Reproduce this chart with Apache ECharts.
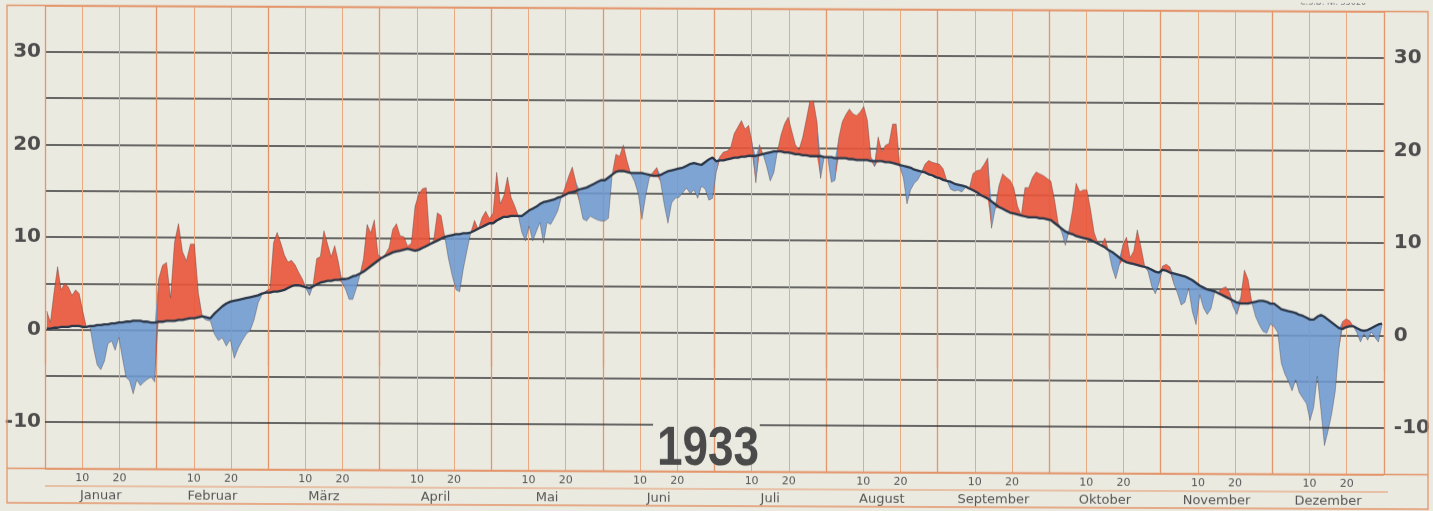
<!DOCTYPE html>
<html><head><meta charset="utf-8">
<script src="https://cdn.jsdelivr.net/npm/echarts@6/dist/echarts.min.js"></script>
<style>
html,body{margin:0;padding:0;background:#ebeae1;overflow:hidden;}
#c{width:1433px;height:511px;transform:skewY(0.26deg);transform-origin:716px 255px;}
</style></head><body><div id="c"></div>
<script>
// ---- data ----
const monthNames = ['Januar','Februar','März','April','Mai','Juni','Juli','August','September','Oktober','November','Dezember'];
const dayTickLabels = ['10','20'];
const yTickLabels = [30,20,10,0,-10];
const titleYear = '1933';

const actualJan = [2.0,0.8,4.0,6.8,4.3,5.0,4.6,3.7,4.3,3.9,2.0,0.3,0.3,-2.0,-3.8,-4.3,-3.4,-1.5,-1.2,-2.2,-0.8,-3.0,-5.1,-5.5,-6.9,-5.4,-6.0,-5.6,-5.3,-5.1,-5.6];
const actualFeb = [5.5,7.0,7.3,3.5,9.5,11.5,8.5,7.5,9.3,9.3,4.0,1.4,1.1,1.0,-0.4,-1.1,-0.8,-1.7,-1.0,-3.0,-1.9,-1.1,-0.4,0.0,1.2,3.0,3.9,4.3];
const actualMar = [4.5,9.5,10.6,9.5,8.2,7.4,7.6,7.1,6.3,5.6,4.6,3.8,5.0,7.8,8.0,10.8,9.4,8.0,9.2,7.5,5.2,4.5,3.4,3.4,4.6,6.0,7.8,11.5,10.6,12.0,8.3];
const actualApr = [7.9,8.3,9.0,11.0,11.6,10.3,10.2,9.2,9.5,13.5,14.8,15.4,15.5,9.5,9.8,12.8,12.5,10.2,7.8,6.0,4.5,4.3,6.8,8.8,10.7,12.0,11.0,12.3,13.0,12.2];
const actualMay = [12.8,17.2,13.8,14.7,16.7,14.5,13.6,12.5,10.7,9.8,11.4,9.8,10.8,11.8,9.6,11.8,11.6,12.3,13.1,14.6,15.6,16.8,17.8,16.2,14.0,12.2,12.0,12.5,12.3,12.1,12.0];
const actualJun = [12.0,12.3,17.0,19.2,19.0,20.2,18.5,17.1,16.3,15.0,12.2,14.7,16.7,17.3,17.8,16.3,13.8,11.8,14.0,14.5,14.6,15.1,15.6,15.0,15.4,14.5,15.8,15.5,14.3,14.5];
const actualJul = [17.3,19.0,19.5,19.6,20.0,21.5,22.2,22.9,22.0,22.4,20.5,16.2,20.3,19.3,18.0,16.4,17.3,19.6,21.4,22.6,23.3,21.8,20.3,19.8,21.1,23.0,25.0,25.1,22.8,16.7,19.0];
const actualAug = [18.9,16.3,16.5,21.0,22.8,23.6,24.2,23.7,23.5,23.9,24.5,23.0,19.0,18.0,21.2,19.6,20.3,20.5,22.6,22.6,18.0,16.8,14.0,15.5,16.2,16.6,17.3,18.3,18.7,18.5,18.4];
const actualSep = [18.3,17.8,16.5,15.6,15.4,15.5,15.3,15.8,15.6,17.3,17.6,17.7,18.3,19.0,11.4,13.5,16.0,17.3,16.9,16.6,15.8,13.8,12.8,15.8,15.8,16.9,17.5,17.3,17.1,16.8];
const actualOct = [16.5,14.5,12.0,11.0,9.6,11.2,13.4,16.3,15.4,15.6,15.6,13.5,11.0,9.9,9.6,10.4,9.0,7.2,6.0,7.5,9.7,10.5,8.3,9.0,11.3,9.5,7.5,6.8,5.2,4.4,5.5];
const actualNov = [7.4,7.6,7.3,5.5,4.5,3.2,3.5,5.0,2.5,1.1,4.3,2.9,2.2,2.8,4.6,4.6,5.0,5.2,4.6,3.0,2.2,4.0,7.0,6.0,3.5,2.0,1.1,0.4,0.2,1.2];
const actualDec = [0.9,0.3,-3.0,-4.2,-5.0,-6.0,-4.8,-6.2,-6.8,-7.4,-9.2,-7.8,-4.4,-8.0,-11.9,-10.3,-8.5,-6.0,-1.5,1.5,1.8,1.6,1.0,0.3,-0.7,0.2,-0.5,0.4,-0.2,-0.7,1.2];

const normalJan = [0.1,0.1,0.2,0.2,0.3,0.3,0.3,0.4,0.4,0.4,0.3,0.3,0.4,0.4,0.5,0.5,0.6,0.6,0.7,0.7,0.8,0.8,0.9,0.9,1.0,1.0,1.0,0.9,0.9,0.8,0.8];
const normalFeb = [0.9,0.9,1.0,1.0,1.0,1.1,1.1,1.2,1.3,1.3,1.4,1.5,1.4,1.3,1.8,2.2,2.6,2.9,3.1,3.2,3.3,3.4,3.5,3.6,3.7,3.8,4.0,4.1];
const normalMar = [4.1,4.2,4.2,4.3,4.4,4.6,4.8,4.9,4.9,4.8,4.7,4.6,4.8,5.0,5.2,5.3,5.4,5.4,5.5,5.5,5.6,5.6,5.7,5.9,6.0,6.2,6.4,6.7,7.0,7.3,7.6];
const normalApr = [7.9,8.1,8.3,8.5,8.6,8.7,8.8,8.9,8.8,8.7,8.8,9.0,9.2,9.4,9.6,9.8,10.0,10.2,10.3,10.4,10.5,10.5,10.6,10.6,10.7,10.9,11.1,11.3,11.5,11.7];
const normalMay = [11.7,12.0,12.2,12.4,12.4,12.5,12.5,12.5,12.5,12.8,13.1,13.3,13.5,13.8,14.0,14.1,14.2,14.3,14.5,14.6,14.8,15.0,15.1,15.2,15.4,15.5,15.6,15.8,16.0,16.2,16.4];
const normalJun = [16.4,16.7,17.0,17.3,17.4,17.4,17.3,17.2,17.2,17.2,17.2,17.1,17.0,16.9,16.9,17.0,17.2,17.4,17.5,17.6,17.7,17.8,18.0,18.2,18.3,18.2,18.1,18.4,18.7,18.9];
const normalJul = [18.5,18.6,18.6,18.7,18.8,18.9,18.9,19.0,19.0,19.1,19.1,19.1,19.2,19.3,19.4,19.5,19.6,19.6,19.6,19.5,19.5,19.4,19.3,19.3,19.2,19.2,19.1,19.1,19.1,19.1,19.0];
const normalAug = [19.0,19.0,18.9,18.9,18.9,18.9,18.8,18.8,18.7,18.7,18.7,18.7,18.6,18.6,18.6,18.6,18.5,18.5,18.4,18.3,18.2,18.1,18.0,17.9,17.7,17.6,17.5,17.4,17.2,17.1,16.9];
const normalSep = [16.8,16.6,16.5,16.4,16.2,16.1,16.0,15.9,15.7,15.5,15.3,15.0,14.8,14.6,14.3,14.0,13.7,13.5,13.3,13.1,13.0,12.9,12.8,12.7,12.6,12.6,12.6,12.5,12.5,12.4];
const normalOct = [12.3,12.0,11.7,11.4,11.1,10.9,10.8,10.6,10.5,10.4,10.3,10.2,10.0,9.8,9.6,9.4,9.1,8.9,8.6,8.3,8.0,7.8,7.7,7.6,7.5,7.4,7.3,7.2,7.0,6.8,6.7];
const normalNov = [7.0,6.9,6.7,6.6,6.5,6.4,6.3,6.1,5.9,5.6,5.3,5.1,4.9,4.8,4.7,4.5,4.3,4.1,3.9,3.7,3.5,3.4,3.4,3.4,3.5,3.6,3.7,3.7,3.6,3.4];
const normalDec = [3.4,3.1,2.8,2.7,2.6,2.5,2.4,2.2,2.1,1.9,1.7,1.7,2.0,2.2,2.0,1.7,1.4,1.1,0.8,0.7,0.9,1.0,1.0,0.8,0.6,0.5,0.6,0.8,1.0,1.2,1.3];

// ---- build series data ----
const actualMonths = [actualJan,actualFeb,actualMar,actualApr,actualMay,actualJun,actualJul,actualAug,actualSep,actualOct,actualNov,actualDec];
const normalMonths = [normalJan,normalFeb,normalMar,normalApr,normalMay,normalJun,normalJul,normalAug,normalSep,normalOct,normalNov,normalDec];
const xs = [], A = [], N = [];
actualMonths.forEach((arr, m) => {
  const n = arr.length;
  arr.forEach((v, i) => { xs.push(3 * (m + (i + 0.5) / n)); A.push(v); N.push(normalMonths[m][i]); });
});
// value first, x second (so that stacking acts on the temperature dimension)
const baseData = A.map((a, i) => [Math.min(a, N[i]), xs[i]]);
const warmData = A.map((a, i) => [Math.max(a - N[i], 0), xs[i]]);
const coldData = A.map((a, i) => [Math.max(N[i] - a, 0), xs[i]]);
const actualData = A.map((a, i) => [a, xs[i]]);
const normalData = N.map((v, i) => [v, xs[i]]);
const ENC = {x: 1, y: 0};

const PAPER = '#ebeae1', ORANGE = '#eaa97f', ORANGE_D = '#e3956a', BLACK = '#3a3a3a';
const chart = echarts.init(document.getElementById('c'), null, {renderer: 'canvas'});
const gridLeft = 45, gridRight = 45, gridTop = 8.5, gridBottom = 39.5;
const yLabelFmt = v => (yTickLabels.indexOf(v) >= 0 ? String(v) : '');
const splitColors = [ORANGE_D, 'rgba(0,0,0,0)', BLACK, BLACK, BLACK, BLACK, BLACK, BLACK, BLACK, BLACK, ORANGE_D];

chart.setOption({
  animation: false,
  backgroundColor: PAPER,
  grid: {left: gridLeft, right: gridRight, top: gridTop, bottom: gridBottom, containLabel: false},
  xAxis: [
    {type: 'value', min: 0, max: 36, interval: 1, position: 'bottom',
     axisLine: {show: false}, axisTick: {show: false},
     splitLine: {show: true, lineStyle: {color: ORANGE, width: 1}},
     axisLabel: {margin: 4, fontSize: 11, color: '#555555', fontFamily: 'DejaVu Sans',
       formatter: v => { const r = Math.round(v) % 3; return r === 0 ? '' : dayTickLabels[r - 1]; }}},
    {type: 'category', data: monthNames, boundaryGap: true, position: 'bottom',
     axisLine: {show: false},
     axisTick: {show: true, interval: 0, length: 35, lineStyle: {color: ORANGE_D, width: 1.3}},
     splitLine: {show: true, interval: 0, lineStyle: {color: ORANGE_D, width: 1.3}},
     axisLabel: {interval: 0, margin: 21, fontSize: 13, color: '#555555', fontFamily: 'DejaVu Sans'}}
  ],
  yAxis: [
    {type: 'value', min: -15, max: 35, interval: 5, position: 'left',
     axisLine: {show: false}, axisTick: {show: false},
     splitLine: {show: true, lineStyle: {color: splitColors, width: 1.7}},
     axisLabel: {margin: 4, fontSize: 20, fontWeight: 'bold', color: '#4d4d4d', fontFamily: 'DejaVu Sans', formatter: yLabelFmt}},
    {type: 'value', min: -15, max: 35, interval: 5, position: 'right',
     axisLine: {show: false}, axisTick: {show: false}, splitLine: {show: false},
     axisLabel: {margin: 10, fontSize: 20, fontWeight: 'bold', color: '#4d4d4d', fontFamily: 'DejaVu Sans', formatter: yLabelFmt}}
  ],
  series: [
    {type: 'line', data: baseData, encode: ENC, stack: 't', stackStrategy: 'all', symbol: 'none', silent: true,
     lineStyle: {width: 0, opacity: 0}, z: 2},
    {type: 'line', data: warmData, encode: ENC, stack: 't', stackStrategy: 'all', symbol: 'none', silent: true,
     lineStyle: {width: 0, opacity: 0}, areaStyle: {color: '#e9553a', opacity: 0.9}, z: 3},
    {type: 'line', data: coldData, encode: ENC, stack: 't', stackStrategy: 'all', symbol: 'none', silent: true,
     lineStyle: {width: 0, opacity: 0}, areaStyle: {color: '#6d9ad0', opacity: 0.88}, z: 3},
    {type: 'line', data: actualData, encode: ENC, symbol: 'none', silent: true,
     lineStyle: {width: 0.8, color: 'rgba(70,50,50,0.45)'}, z: 4},
    {type: 'line', data: normalData, encode: ENC, symbol: 'none', silent: true,
     lineStyle: {width: 2.3, color: '#2b3748'}, z: 5,
     markLine: {silent: true, symbol: 'none', label: {show: false},
       lineStyle: {color: BLACK, width: 1.7, type: 'solid'},
       data: [[{coord: [0, -10]}, {coord: [16.35, -10]}], [{coord: [19.22, -10]}, {coord: [36, -10]}]]}}
  ],
  graphic: [
    {type: 'rect', silent: true, z: 1, shape: {x: 7, y: 8.5, width: 1421, height: 497.5},
     style: {fill: 'none', stroke: ORANGE_D, lineWidth: 1.3}},
    {type: 'line', silent: true, z: 1, shape: {x1: 7, y1: 471.5, x2: 1428, y2: 471.5},
     style: {stroke: ORANGE_D, lineWidth: 1.3}},
    {type: 'line', silent: true, z: 1, shape: {x1: 45, y1: 489, x2: 1388, y2: 489},
     style: {stroke: ORANGE_D, lineWidth: 1.2}},
    {type: 'text', silent: true, z: 10, x: 657, y: 450, scaleX: 0.82,
     style: {text: titleYear, font: 'bold 56px "Liberation Sans"', fill: '#4a4a4a', verticalAlign: 'middle', align: 'left'}},
    {type: 'text', silent: true, z: 10, x: 10, y: -1,
     style: {text: 'Deutsche Landeswetterwarte', font: '9px "DejaVu Sans"', fill: '#7a7a7a', verticalAlign: 'middle'}},
    {type: 'text', silent: true, z: 10, x: 1300, y: 0,
     style: {text: 'C.S.D. Nr. 35020', font: '8px "DejaVu Sans"', fill: '#7a7a7a', verticalAlign: 'middle'}}
  ]
});
</script></body></html>
